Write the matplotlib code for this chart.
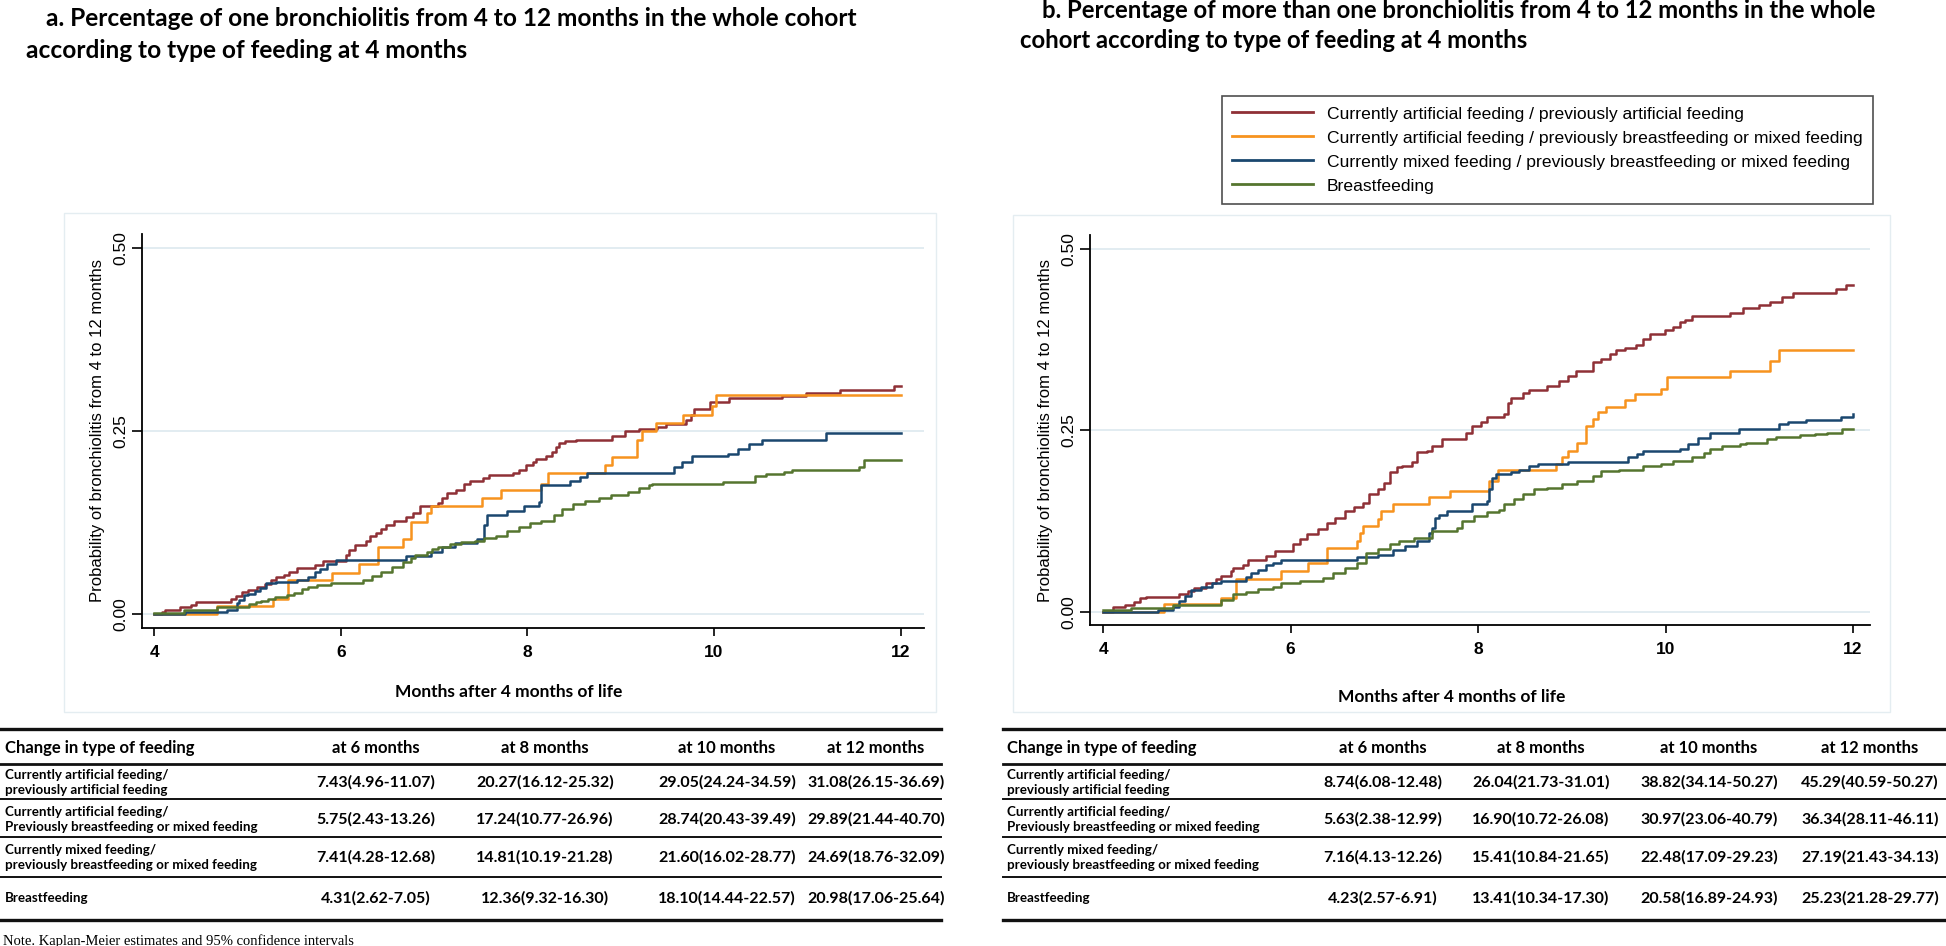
import matplotlib
matplotlib.use("Agg")
import matplotlib.pyplot as plt
from matplotlib.lines import Line2D
from matplotlib.patches import Rectangle

W, H = 1946, 946

# ---- panel a: one bronchiolitis (step times in months, cumulative probability)
a_art_t = [4.0, 4.08, 4.12, 4.28, 4.40, 4.45, 4.82, 4.88, 4.94, 5.01, 5.10, 5.19, 5.25, 5.31, 5.39,
           5.44, 5.53, 5.72, 5.81, 6.06, 6.09, 6.15, 6.27, 6.31, 6.38, 6.43, 6.49, 6.57, 6.70, 6.77,
           6.85, 7.04, 7.09, 7.14, 7.23, 7.32, 7.38, 7.52, 7.59, 7.85, 7.91, 7.98, 8.06, 8.09, 8.20,
           8.26, 8.31, 8.34, 8.40, 8.52, 8.91, 9.05, 9.20, 9.39, 9.48, 9.70, 9.75, 9.79, 9.96, 10.16,
           10.73, 10.99, 11.35, 11.93, 12.0]
a_art_p = [0.0, 0.003, 0.006, 0.010, 0.013, 0.016, 0.021, 0.025, 0.030, 0.033, 0.037, 0.041, 0.046,
           0.050, 0.053, 0.058, 0.063, 0.067, 0.073, 0.080, 0.087, 0.094, 0.100, 0.106, 0.111, 0.116,
           0.121, 0.127, 0.132, 0.138, 0.147, 0.152, 0.159, 0.166, 0.170, 0.178, 0.182, 0.186, 0.190,
           0.193, 0.197, 0.203, 0.208, 0.212, 0.216, 0.222, 0.228, 0.233, 0.236, 0.238, 0.243, 0.250,
           0.253, 0.256, 0.260, 0.265, 0.272, 0.280, 0.290, 0.295, 0.298, 0.302, 0.306, 0.311, 0.311]

a_swi_t = [4.0, 4.67, 5.27, 5.43, 5.91, 6.20, 6.40, 6.67, 6.75, 6.92, 6.97, 7.51, 7.72, 8.15, 8.22,
           8.83, 8.91, 9.17, 9.23, 9.38, 9.67, 9.98, 10.02, 12.0]
a_swi_p = [0.0, 0.011, 0.021, 0.046, 0.056, 0.068, 0.091, 0.103, 0.126, 0.138, 0.147, 0.159, 0.170,
           0.177, 0.193, 0.203, 0.215, 0.238, 0.250, 0.261, 0.272, 0.284, 0.299, 0.299]

a_mix_t = [4.0, 4.33, 4.78, 4.89, 4.91, 4.96, 5.01, 5.08, 5.13, 5.20, 5.31, 5.53, 5.65, 5.72, 5.78,
           5.85, 5.95, 6.70, 6.97, 7.08, 7.22, 7.46, 7.54, 7.57, 7.78, 7.96, 8.12, 8.15, 8.46, 8.56,
           8.64, 9.57, 9.66, 9.76, 10.15, 10.26, 10.37, 10.51, 11.20, 12.0]
a_mix_p = [0.0, 0.003, 0.006, 0.015, 0.019, 0.026, 0.028, 0.032, 0.036, 0.042, 0.044, 0.047, 0.051,
           0.058, 0.062, 0.068, 0.074, 0.079, 0.085, 0.092, 0.097, 0.103, 0.121, 0.135, 0.141, 0.147,
           0.153, 0.176, 0.182, 0.187, 0.193, 0.201, 0.208, 0.216, 0.219, 0.226, 0.232, 0.238, 0.247,
           0.247]

a_bre_t = [4.0, 4.32, 4.67, 5.02, 5.09, 5.15, 5.22, 5.30, 5.42, 5.50, 5.58, 5.65, 5.74, 5.90, 6.24,
           6.33, 6.43, 6.55, 6.67, 6.75, 6.80, 6.92, 6.98, 7.04, 7.17, 7.29, 7.44, 7.54, 7.66, 7.78,
           7.91, 8.03, 8.15, 8.28, 8.37, 8.49, 8.62, 8.77, 8.90, 9.08, 9.20, 9.30, 9.33, 10.10, 10.44,
           10.56, 10.75, 10.84, 11.55, 11.61, 12.0]
a_bre_p = [0.002, 0.005, 0.010, 0.014, 0.016, 0.018, 0.021, 0.024, 0.026, 0.029, 0.034, 0.037, 0.040,
           0.043, 0.046, 0.052, 0.057, 0.064, 0.071, 0.076, 0.080, 0.085, 0.089, 0.092, 0.096, 0.098,
           0.100, 0.104, 0.107, 0.114, 0.119, 0.124, 0.127, 0.135, 0.144, 0.150, 0.155, 0.158, 0.162,
           0.167, 0.172, 0.176, 0.178, 0.180, 0.188, 0.191, 0.194, 0.197, 0.201, 0.210, 0.210]

# ---- panel b: more than one bronchiolitis
b_art_t = [4.0, 4.10, 4.23, 4.33, 4.39, 4.46, 4.81, 4.91, 4.97, 5.10, 5.20, 5.26, 5.36, 5.39, 5.49,
           5.55, 5.74, 5.83, 6.03, 6.10, 6.17, 6.29, 6.39, 6.47, 6.58, 6.68, 6.77, 6.84, 6.93, 7.00,
           7.06, 7.13, 7.19, 7.29, 7.35, 7.45, 7.51, 7.61, 7.87, 7.93, 8.03, 8.09, 8.28, 8.32, 8.35,
           8.48, 8.54, 8.73, 8.86, 8.96, 9.04, 9.22, 9.31, 9.41, 9.47, 9.57, 9.68, 9.76, 9.83, 9.99,
           10.08, 10.15, 10.21, 10.28, 10.69, 10.82, 11.00, 11.11, 11.24, 11.36, 11.82, 11.92, 12.0]
b_art_p = [0.0, 0.007, 0.010, 0.014, 0.019, 0.021, 0.024, 0.029, 0.033, 0.040, 0.045, 0.050, 0.056,
           0.061, 0.065, 0.071, 0.077, 0.084, 0.093, 0.100, 0.107, 0.114, 0.122, 0.130, 0.139, 0.144,
           0.150, 0.163, 0.169, 0.178, 0.192, 0.199, 0.201, 0.206, 0.220, 0.222, 0.229, 0.238, 0.247,
           0.256, 0.261, 0.268, 0.272, 0.288, 0.295, 0.302, 0.306, 0.311, 0.318, 0.325, 0.332, 0.344,
           0.348, 0.355, 0.360, 0.364, 0.367, 0.376, 0.383, 0.388, 0.392, 0.399, 0.402, 0.408, 0.412,
           0.418, 0.423, 0.427, 0.433, 0.439, 0.445, 0.450, 0.450]

b_swi_t = [4.0, 4.65, 5.26, 5.42, 5.90, 6.19, 6.39, 6.71, 6.74, 6.77, 6.93, 6.96, 7.09, 7.48, 7.70,
           8.12, 8.21, 8.83, 8.89, 8.96, 9.05, 9.15, 9.22, 9.28, 9.36, 9.57, 9.67, 9.95, 10.02, 10.69,
           11.11, 11.21, 12.0]
b_swi_p = [0.0, 0.011, 0.019, 0.045, 0.056, 0.068, 0.088, 0.098, 0.109, 0.119, 0.128, 0.139, 0.148,
           0.158, 0.167, 0.180, 0.196, 0.203, 0.214, 0.222, 0.232, 0.256, 0.265, 0.275, 0.282, 0.292,
           0.300, 0.307, 0.323, 0.332, 0.346, 0.361, 0.361]

b_mix_t = [4.0, 4.59, 4.75, 4.81, 4.87, 4.94, 5.04, 5.16, 5.26, 5.52, 5.58, 5.65, 5.74, 5.81, 5.90,
           6.71, 6.93, 7.09, 7.22, 7.35, 7.48, 7.51, 7.54, 7.58, 7.67, 7.93, 8.09, 8.12, 8.15, 8.19,
           8.35, 8.44, 8.54, 8.64, 8.96, 9.60, 9.70, 9.76, 10.15, 10.24, 10.34, 10.47, 10.78, 11.21,
           11.31, 11.50, 11.87, 12.0]
b_mix_p = [0.0, 0.003, 0.007, 0.015, 0.022, 0.030, 0.035, 0.040, 0.043, 0.048, 0.054, 0.058, 0.064,
           0.068, 0.071, 0.075, 0.079, 0.085, 0.091, 0.098, 0.109, 0.116, 0.130, 0.134, 0.139, 0.148,
           0.153, 0.169, 0.185, 0.190, 0.193, 0.196, 0.201, 0.203, 0.206, 0.213, 0.217, 0.222, 0.225,
           0.231, 0.240, 0.247, 0.252, 0.259, 0.262, 0.264, 0.269, 0.272]

b_bre_t = [4.0, 4.30, 4.75, 5.26, 5.39, 5.52, 5.65, 5.81, 5.90, 6.10, 6.35, 6.45, 6.58, 6.71, 6.80,
           6.93, 7.06, 7.16, 7.32, 7.51, 7.77, 7.83, 7.96, 8.09, 8.22, 8.28, 8.38, 8.48, 8.60, 8.73,
           8.89, 9.05, 9.22, 9.31, 9.50, 9.76, 9.95, 10.08, 10.28, 10.41, 10.47, 10.60, 10.79, 10.86,
           11.08, 11.18, 11.43, 11.59, 11.72, 11.88, 12.0]
b_bre_p = [0.002, 0.006, 0.010, 0.017, 0.024, 0.027, 0.032, 0.035, 0.040, 0.042, 0.047, 0.054, 0.061,
           0.068, 0.081, 0.086, 0.093, 0.098, 0.102, 0.111, 0.116, 0.125, 0.132, 0.137, 0.141, 0.148,
           0.155, 0.162, 0.169, 0.171, 0.176, 0.180, 0.187, 0.194, 0.196, 0.201, 0.203, 0.208, 0.213,
           0.219, 0.224, 0.228, 0.231, 0.233, 0.238, 0.241, 0.243, 0.245, 0.247, 0.252, 0.252]

legend_labels = ["Currently artificial feeding / previously artificial feeding",
                 "Currently artificial feeding / previously breastfeeding or mixed feeding",
                 "Currently mixed feeding / previously breastfeeding or mixed feeding",
                 "Breastfeeding"]
colors = ["#8f3036", "#f7931e", "#1a476f", "#55752f"]

# ---- tables
col_headers = ["at 6 months", "at 8 months", "at 10 months", "at 12 months"]
row_labels = ["Currently artificial feeding/\npreviously artificial feeding",
              "Currently artificial feeding/\nPreviously breastfeeding or mixed feeding",
              "Currently mixed feeding/\npreviously breastfeeding or mixed feeding",
              "Breastfeeding"]
table_a = [["7.43(4.96-11.07)", "20.27(16.12-25.32)", "29.05(24.24-34.59)", "31.08(26.15-36.69)"],
           ["5.75(2.43-13.26)", "17.24(10.77-26.96)", "28.74(20.43-39.49)", "29.89(21.44-40.70)"],
           ["7.41(4.28-12.68)", "14.81(10.19-21.28)", "21.60(16.02-28.77)", "24.69(18.76-32.09)"],
           ["4.31(2.62-7.05)", "12.36(9.32-16.30)", "18.10(14.44-22.57)", "20.98(17.06-25.64)"]]
table_b = [["8.74(6.08-12.48)", "26.04(21.73-31.01)", "38.82(34.14-50.27)", "45.29(40.59-50.27)"],
           ["5.63(2.38-12.99)", "16.90(10.72-26.08)", "30.97(23.06-40.79)", "36.34(28.11-46.11)"],
           ["7.16(4.13-12.26)", "15.41(10.84-21.65)", "22.48(17.09-29.23)", "27.19(21.43-34.13)"],
           ["4.23(2.57-6.91)", "13.41(10.34-17.30)", "20.58(16.89-24.93)", "25.23(21.28-29.77)"]]

title_a = ["a. Percentage of one bronchiolitis from 4 to 12 months in the whole cohort",
           "according to type of feeding at 4 months"]
title_b = ["b. Percentage of more than one bronchiolitis from 4 to 12 months in the whole",
           "cohort according to type of feeding at 4 months"]

SANS = ["Liberation Sans", "DejaVu Sans"]
BOLD = ["Lato", "DejaVu Sans"]


def fx(px):
    return px / W


def fy(py):
    return 1 - py / H


fig = plt.figure(figsize=(W / 100, H / 100), dpi=100)
fig.patch.set_facecolor("white")

# faint graph-region frames
for (x0, y0, x1, y1) in [(64, 213, 936, 712), (1013, 215, 1890, 712)]:
    fig.add_artist(Rectangle((fx(x0), fy(y1)), fx(x1) - fx(x0), fy(y0) - fy(y1),
                             transform=fig.transFigure, fill=False, edgecolor="#e4edf1", lw=1))


def make_axes(rect_px, xlim, ylim, series):
    l, r, t, b = rect_px
    ax = fig.add_axes([fx(l), fy(b), fx(r) - fx(l), fy(t) - fy(b)])
    for yv in [0.0, 0.25, 0.5]:
        ax.axhline(yv, color="#dde9ef", lw=1.2, zorder=0)
    lines = []
    for (t_, p_), c in zip(series, colors):
        ln, = ax.step(t_, p_, where="post", color=c, lw=1.8)
        lines.append(ln)
    ax.set_xlim(*xlim)
    ax.set_ylim(*ylim)
    for s in ["top", "right"]:
        ax.spines[s].set_visible(False)
    for s in ["left", "bottom"]:
        ax.spines[s].set_linewidth(1.3)
    ax.set_xticks([4, 6, 8, 10, 12])
    ax.set_yticks([0.0, 0.25, 0.5])
    ax.set_yticklabels(["0.00", "0.25", "0.50"], rotation=90, va="center",
                       family=SANS, fontsize=12.5)
    ax.set_xticklabels(["4", "6", "8", "10", "12"], family=SANS, fontsize=12.5,
                       fontweight="bold")
    ax.tick_params(axis="y", length=7, width=1.2, pad=3)
    ax.tick_params(axis="x", length=6, width=1.2, pad=6)
    ax.set_ylabel("Probability of bronchiolitis from 4 to 12 months", family=SANS,
                  fontsize=12, labelpad=6)
    return ax, lines


ax_a, lines_a = make_axes((142, 924, 234, 628), (3.87, 12.25), (-0.019, 0.519),
                          [(a_art_t, a_art_p), (a_swi_t, a_swi_p), (a_mix_t, a_mix_p), (a_bre_t, a_bre_p)])
ax_b, lines_b = make_axes((1090, 1870, 235, 625), (3.86, 12.18), (-0.018, 0.519),
                          [(b_art_t, b_art_p), (b_swi_t, b_swi_p), (b_mix_t, b_mix_p), (b_bre_t, b_bre_p)])

fig.text(fx(509), fy(692), "Months after 4 months of life", family=BOLD, fontweight="bold",
         fontsize=12.5, ha="center", va="center")
fig.text(fx(1452), fy(697), "Months after 4 months of life", family=BOLD, fontweight="bold",
         fontsize=12.5, ha="center", va="center")

# titles
fig.text(fx(46), fy(19), title_a[0], family=BOLD, fontweight="bold", fontsize=17.6, va="center")
fig.text(fx(26), fy(50), title_a[1], family=BOLD, fontweight="bold", fontsize=17.6, va="center")
fig.text(fx(1042), fy(10), title_b[0], family=BOLD, fontweight="bold", fontsize=17.2, va="center")
fig.text(fx(1020), fy(41), title_b[1], family=BOLD, fontweight="bold", fontsize=17.2, va="center")

# legend
leg = ax_b.legend(lines_b, legend_labels, loc="upper left", bbox_to_anchor=(fx(1213), fy(87)),
                  bbox_transform=fig.transFigure, frameon=True, fancybox=False,
                  edgecolor="#222222", prop={"family": SANS, "size": 12.6},
                  handlelength=4.6, handletextpad=0.8, labelspacing=0.5, borderpad=0.6)
leg.get_frame().set_linewidth(1.2)
for h in leg.get_lines():
    h.set_linewidth(2)


def draw_table(x_left, x_right, x_text, col_x, values):
    def hline(py, lw):
        fig.add_artist(Line2D([fx(x_left), fx(x_right)], [fy(py), fy(py)],
                              transform=fig.transFigure, color="#111111", lw=lw))
    hline(729, 2.4)
    hline(764, 2.0)
    for py in [799, 837, 877]:
        hline(py, 1.4)
    hline(920, 2.4)
    fig.text(fx(x_text), fy(748), "Change in type of feeding", family=BOLD, fontweight="bold",
             fontsize=12, va="center")
    for cx, h in zip(col_x, col_headers):
        fig.text(fx(cx), fy(748), h, family=BOLD, fontweight="bold", fontsize=12,
                 ha="center", va="center")
    for ry, lab, row in zip([782, 819, 857, 898], row_labels, values):
        fig.text(fx(x_text), fy(ry), lab, family=BOLD, fontweight="bold", fontsize=9.6,
                 va="center", linespacing=1.3)
        for cx, v in zip(col_x, row):
            fig.text(fx(cx), fy(ry), v, family=BOLD, fontweight="bold", fontsize=11.5,
                     ha="center", va="center")


draw_table(0, 941, 5, [376, 545, 727, 876], table_a)
draw_table(1003, 1946, 1007, [1383, 1541, 1709, 1870], table_b)

fig.text(fx(3), fy(941), "Note. Kaplan-Meier estimates and 95% confidence intervals",
         family=["Liberation Serif", "DejaVu Serif"], fontsize=10.5, va="center")

fig.savefig("out.png", dpi=100)
